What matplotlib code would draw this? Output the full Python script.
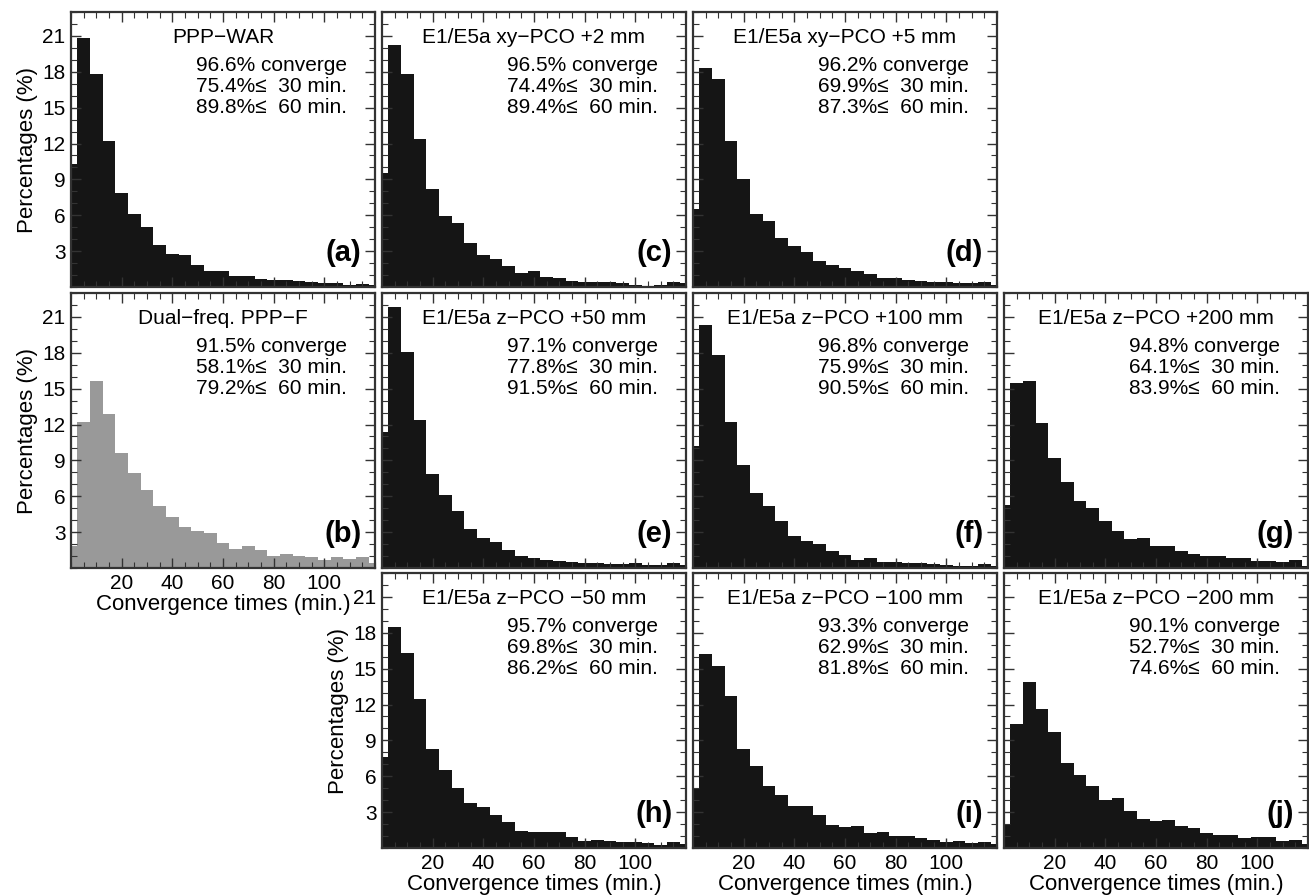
import matplotlib
matplotlib.use('Agg')
import matplotlib.pyplot as plt
from matplotlib.ticker import MultipleLocator
import numpy as np

plt.rcParams['font.family'] = ['Liberation Sans', 'DejaVu Sans']

# bin centres (min), 5-min bins
bins = np.arange(0, 125, 5)

# percentages per bin
ppp_war = [10.3, 20.8, 17.8, 12.2, 7.9, 6.1, 5.0, 3.5, 2.8, 2.7, 1.85, 1.3, 1.3,
           0.93, 0.95, 0.65, 0.6, 0.6, 0.5, 0.45, 0.36, 0.3, 0.2, 0.25, 0.2]
ppp_f = [1.8, 12.2, 15.6, 12.9, 9.6, 7.95, 6.5, 5.15, 4.26, 3.42, 3.08, 2.9, 2.13,
         1.6, 1.8, 1.5, 1.0, 1.18, 0.98, 0.9, 0.67, 0.9, 0.76, 0.9, 0.4]
xy_2mm = [9.5, 20.2, 17.8, 12.4, 8.2, 5.9, 5.35, 3.7, 2.7, 2.35, 1.74, 1.15, 1.3,
          0.87, 0.73, 0.53, 0.45, 0.4, 0.45, 0.34, 0.2, 0.11, 0.2, 0.4, 0.3]
xy_5mm = [6.5, 18.3, 17.4, 12.2, 9.0, 6.1, 5.5, 4.1, 3.4, 2.9, 2.2, 1.8, 1.57,
          1.3, 1.1, 0.73, 0.73, 0.6, 0.53, 0.45, 0.4, 0.3, 0.3, 0.45, 0.2]
z_p50 = [11.4, 21.8, 18.1, 12.35, 7.9, 6.1, 4.8, 3.3, 2.55, 2.2, 1.5, 0.98, 0.8,
         0.67, 0.6, 0.48, 0.42, 0.4, 0.34, 0.3, 0.4, 0.25, 0.25, 0.4, 0.25]
z_p100 = [10.2, 20.3, 17.8, 12.2, 8.6, 6.3, 5.2, 3.9, 2.7, 2.24, 2.0, 1.43, 1.1,
          0.7, 0.8, 0.53, 0.48, 0.42, 0.4, 0.3, 0.25, 0.2, 0.2, 0.34, 0.2]
z_p200 = [5.3, 15.5, 15.6, 12.1, 9.2, 7.2, 5.6, 5.0, 3.9, 3.1, 2.4, 2.5, 1.8,
          1.8, 1.46, 1.18, 0.98, 0.98, 0.8, 0.8, 0.6, 0.6, 0.53, 0.67, 0.2]
z_m50 = [7.6, 18.5, 16.3, 12.5, 8.3, 6.5, 5.0, 3.8, 3.4, 2.8, 2.2, 1.46, 1.37,
         1.3, 1.3, 0.9, 0.62, 0.67, 0.62, 0.53, 0.48, 0.42, 0.25, 0.53, 0.34]
z_m100 = [5.0, 16.2, 15.25, 12.75, 8.3, 6.9, 5.2, 4.4, 3.5, 3.5, 2.8, 1.9, 1.74,
          1.8, 1.26, 1.37, 1.04, 0.98, 0.8, 0.7, 0.53, 0.62, 0.42, 0.53, 0.3]
z_m200 = [1.96, 10.4, 13.85, 11.6, 9.7, 7.1, 6.1, 5.2, 4.0, 4.2, 3.1, 2.4, 2.24,
          2.35, 1.8, 1.7, 1.23, 1.12, 1.12, 0.84, 0.9, 0.9, 0.62, 0.7, 0.34]

titles = ['PPP\u2212WAR', 'Dual\u2212freq. PPP\u2212F',
          'E1/E5a xy\u2212PCO +2 mm', 'E1/E5a xy\u2212PCO +5 mm',
          'E1/E5a z\u2212PCO +50 mm', 'E1/E5a z\u2212PCO +100 mm', 'E1/E5a z\u2212PCO +200 mm',
          'E1/E5a z\u2212PCO \u221250 mm', 'E1/E5a z\u2212PCO \u2212100 mm', 'E1/E5a z\u2212PCO \u2212200 mm']
converge = [96.6, 91.5, 96.5, 96.2, 97.1, 96.8, 94.8, 95.7, 93.3, 90.1]
within30 = [75.4, 58.1, 74.4, 69.9, 77.8, 75.9, 64.1, 69.8, 62.9, 52.7]
within60 = [89.8, 79.2, 89.4, 87.3, 91.5, 90.5, 83.9, 86.2, 81.8, 74.6]
labels = ['(a)', '(b)', '(c)', '(d)', '(e)', '(f)', '(g)', '(h)', '(i)', '(j)']
series = [ppp_war, ppp_f, xy_2mm, xy_5mm, z_p50, z_p100, z_p200, z_m50, z_m100, z_m200]

# grid slot (row, col) of each panel
slots = [(0, 0), (1, 0), (0, 1), (0, 2), (1, 1), (1, 2), (1, 3), (2, 1), (2, 2), (2, 3)]

W, H = 1309, 896
fig = plt.figure(figsize=(W / 100, H / 100), dpi=100)
col_left = [71, 382, 693, 1004]
row_top = [12, 293, 573]
aw, ah = 304, 275

for i in range(10):
    r, c = slots[i]
    ax = fig.add_axes([col_left[c] / W, 1 - (row_top[r] + ah) / H, aw / W, ah / H])
    color = '#999999' if i == 1 else '#151515'
    ax.bar(bins, series[i], width=5, color=color, linewidth=0, align='center')
    ax.set_xlim(0, 120)
    ax.set_ylim(0, 23)
    ax.xaxis.set_major_locator(plt.FixedLocator([20, 40, 60, 80, 100]))
    ax.xaxis.set_minor_locator(MultipleLocator(5))
    ax.yaxis.set_major_locator(plt.FixedLocator([3, 6, 9, 12, 15, 18, 21]))
    ax.yaxis.set_minor_locator(MultipleLocator(1))
    ax.tick_params(which='both', direction='in', top=True, right=True, color='#333333')
    ax.tick_params(which='major', length=7, width=1, labelsize=15, pad=4)
    ax.tick_params(which='minor', length=4, width=0.8)
    for s in ax.spines.values():
        s.set_color('#333333')
        s.set_linewidth(1.6)

    if i in (0, 1, 7):
        ax.set_ylabel('Percentages (%)', fontsize=16, labelpad=3)
    else:
        ax.set_yticklabels([])
    if i in (1, 7, 8, 9):
        ax.set_xlabel('Convergence times (min.)', fontsize=16, labelpad=1)
    else:
        ax.set_xticklabels([])

    ax.text(0.5, 0.886, titles[i], transform=ax.transAxes, ha='center',
            va='baseline', fontsize=15)
    stats = ['%.1f%% converge' % converge[i],
             '%.1f%%\u2264  30 min.' % within30[i],
             '%.1f%%\u2264  60 min.' % within60[i]]
    for k, s in enumerate(stats):
        ax.text(0.909, 0.787 - 0.0765 * k, s, transform=ax.transAxes, ha='right',
                va='baseline', fontsize=15)
    ax.text(0.955, 0.095, labels[i], transform=ax.transAxes, ha='right',
            va='baseline', fontsize=21, fontweight='bold')

plt.savefig('out.png', dpi=100)
